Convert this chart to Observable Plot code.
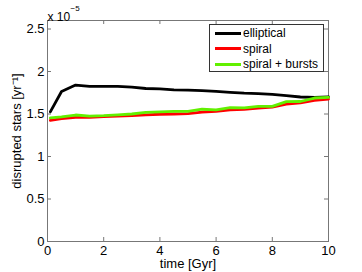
<!DOCTYPE html>
<html><head><meta charset="utf-8">
<script src="https://cdn.jsdelivr.net/npm/d3@7"></script>
<script src="https://cdn.jsdelivr.net/npm/@observablehq/plot@0.6"></script>
<style>
body{margin:0;background:#fff;font-family:"Liberation Sans",Arial,sans-serif;}
#wrap{position:relative;width:362px;height:272px;}
#legend{position:absolute;left:209px;top:24px;width:115px;height:48px;border:1px solid #333;background:#fff;box-sizing:border-box;font-size:12px;}
.row{position:absolute;left:5px;height:14px;display:flex;align-items:center;}
.sw{width:26px;height:3px;margin-right:2px;}
</style></head>
<body><div id="wrap"></div>
<script>
const time = [0.1,0.5,1,1.5,2,2.5,3,3.5,4,4.5,5,5.5,6,6.5,7,7.5,8,8.5,9,9.5,10];
const elliptical = [1.525,1.765,1.84,1.825,1.825,1.825,1.815,1.80,1.795,1.785,1.78,1.775,1.765,1.755,1.745,1.74,1.73,1.715,1.70,1.695,1.70];
const spiral = [1.425,1.445,1.46,1.462,1.468,1.475,1.482,1.49,1.497,1.50,1.505,1.522,1.532,1.548,1.555,1.57,1.58,1.615,1.632,1.66,1.675];
const bursts = [1.455,1.465,1.488,1.475,1.48,1.49,1.50,1.52,1.525,1.53,1.53,1.556,1.548,1.575,1.572,1.59,1.59,1.645,1.647,1.688,1.695];
const seriesNames = ["elliptical","spiral","spiral + bursts"];
const seriesColors = ["#000000","#ff0000","#62f000"];
const xTicks = [0,2,4,6,8,10];
const yTicks = [0,0.5,1,1.5,2,2.5];
const xDomain = [0,10];
const yDomain = [0,2.6];

const rows = [];
[elliptical, spiral, bursts].forEach((vals, s) => {
  vals.forEach((v, i) => rows.push({t: time[i], v, s: seriesNames[s]}));
});

const fmt = d => String(d);
const axisColor = "#777";
const plot = Plot.plot({
  width: 362, height: 272,
  marginLeft: 47, marginRight: 34, marginTop: 20, marginBottom: 31,
  style: {fontFamily: "'Liberation Sans', Arial, sans-serif", fontSize: "13px", color: "#000", background: "#fff"},
  x: {domain: xDomain},
  y: {domain: yDomain},
  color: {domain: seriesNames, range: seriesColors},
  marks: [
    Plot.frame({stroke: axisColor, strokeWidth: 1}),
    Plot.ruleY(yTicks, {y: d => d, x1: xDomain[0], x2: xDomain[0], insetRight: -4, stroke: axisColor}),
    Plot.ruleY(yTicks, {y: d => d, x1: xDomain[1], x2: xDomain[1], insetLeft: -4, stroke: axisColor}),
    Plot.ruleX(xTicks, {x: d => d, y1: yDomain[0], y2: yDomain[0], insetTop: -4, stroke: axisColor}),
    Plot.ruleX(xTicks, {x: d => d, y1: yDomain[1], y2: yDomain[1], insetBottom: -4, stroke: axisColor}),
    Plot.axisX(xTicks, {tickSize: 0, tickPadding: 4, fontSize: 13, tickFormat: fmt, label: "time [Gyr]", labelAnchor: "center", labelArrow: "none", labelOffset: 26}),
    Plot.axisY(yTicks, {tickSize: 0, tickPadding: 3, fontSize: 13, tickFormat: fmt, label: "disrupted stars [yr⁻¹]", labelAnchor: "center", labelArrow: "none", labelOffset: 36}),
    Plot.line(rows, {x: "t", y: "v", z: "s", stroke: "s", strokeWidth: 2.8}),
    Plot.text(["x 10"], {frameAnchor: "top-left", dy: -8, dx: 0, text: d => d, fontSize: 12, textAnchor: "start"}),
    Plot.text(["−5"], {frameAnchor: "top-left", dy: -15, dx: 23, text: d => d, fontSize: 8, textAnchor: "start"})
  ]
});
const wrap = document.getElementById("wrap");
wrap.appendChild(plot);
const leg = document.createElement("div");
leg.id = "legend";
seriesNames.forEach((n, i) => {
  const r = document.createElement("div");
  r.className = "row";
  r.style.top = (1 + i * 15.5) + "px";
  r.innerHTML = `<span class="sw" style="background:${seriesColors[i]}"></span><span>${n}</span>`;
  leg.appendChild(r);
});
wrap.appendChild(leg);
</script></body></html>
